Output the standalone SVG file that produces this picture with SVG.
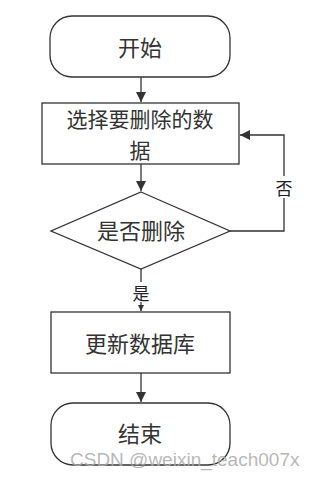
<svg xmlns="http://www.w3.org/2000/svg" width="315" height="479" viewBox="0 0 315 479">
<style>
.s{fill:#fff;stroke:#333;stroke-width:1.3}
.t{font-family:"Noto Sans CJK SC","Liberation Serif",serif;font-size:22px;fill:#333;text-anchor:middle;dominant-baseline:central}
.t2{font-size:21px}
.l{font-family:"Noto Sans CJK SC","Liberation Serif",serif;font-size:17px;fill:#222;text-anchor:middle;dominant-baseline:central}
.c{fill:none;stroke:#333;stroke-width:1.3}
.w{font-family:"Liberation Sans",Arial,sans-serif;font-size:19px;fill:#aaa;fill-opacity:0.85}
</style>
<defs>
<marker id="a" viewBox="0 0 10 10" refX="10" refY="5" markerWidth="10" markerHeight="10" markerUnits="userSpaceOnUse" orient="auto">
<path d="M0,0 L10,5 L0,10 z" fill="#333"/>
</marker>
<marker id="b" viewBox="0 0 10 10" refX="10" refY="5" markerWidth="6" markerHeight="6" markerUnits="userSpaceOnUse" orient="auto">
<path d="M0,0 L10,5 L0,10 z" fill="#333"/>
</marker>
</defs>
<g id="connectors">
<path class="c" d="M141,77 V102" marker-end="url(#a)"/>
<path class="c" d="M141,164 V191" marker-end="url(#a)"/>
<path class="c" d="M230,231 H284 V135 H240" marker-end="url(#a)"/>
<path class="c" d="M141,269 V311" marker-end="url(#b)"/>
<path class="c" d="M141,373 V402" marker-end="url(#a)"/>
<rect x="275" y="176" width="18" height="22" fill="#fff"/>
<text class="l" x="284" y="187">否</text>
<rect x="132" y="282" width="18" height="20" fill="#fff"/>
<text class="l" x="141" y="292">是</text>
</g>
<g id="start">
<rect class="s" x="50" y="16" width="180" height="61" rx="22" ry="22"/>
<text class="t" x="140" y="46">开始</text>
</g>
<g id="select">
<rect class="s" x="42" y="103" width="197" height="61"/>
<text class="t t2" x="140" y="118">选择要删除的数</text>
<text class="t t2" x="140" y="149">据</text>
</g>
<g id="decide">
<polygon class="s" points="141,192 230,231 141,269 51,231"/>
<text class="t" x="141" y="229">是否删除</text>
</g>
<g id="update">
<rect class="s" x="51" y="312" width="179" height="61"/>
<text class="t" x="140" y="342">更新数据库</text>
</g>
<g id="end">
<rect class="s" x="51" y="403" width="179" height="62" rx="22" ry="22"/>
<text class="t" x="140" y="432">结束</text>
</g>
<text class="w" x="70" y="466">CSDN @weixin_teach007x</text>
</svg>
